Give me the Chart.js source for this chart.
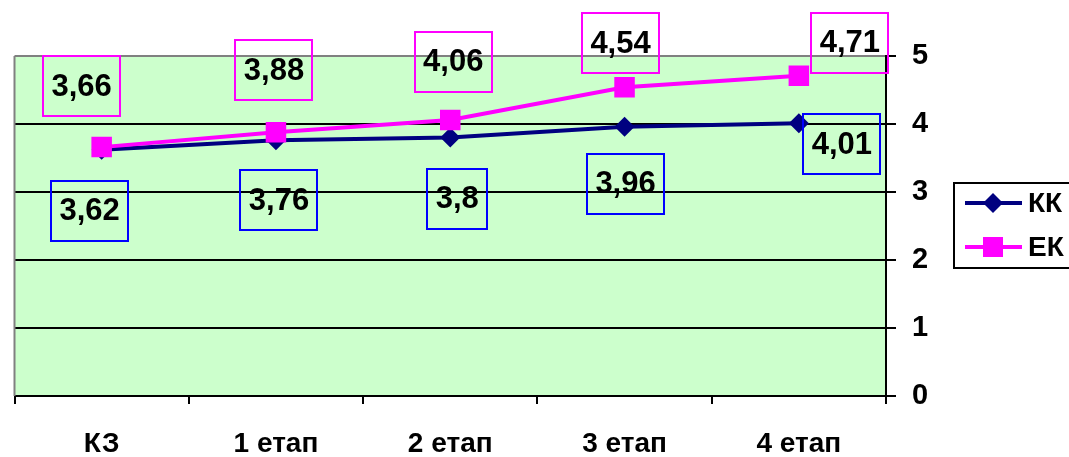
<!DOCTYPE html>
<html>
<head>
<meta charset="utf-8">
<style>
  html, body { margin: 0; padding: 0; background: #ffffff; }
  #wrap { width: 1069px; height: 457px; }
</style>
<script src="https://cdn.jsdelivr.net/npm/chart.js@4/dist/chart.umd.min.js"></script>
</head>
<body>
<div id="wrap"><canvas id="chart" width="1069" height="457"></canvas></div>
<script>
// Stages along the horizontal axis
const categories = ['КЗ', '1 етап', '2 етап', '3 етап', '4 етап'];
// Mean scores per group
const kkValues = [3.62, 3.76, 3.8, 3.96, 4.01];
const ekValues = [3.66, 3.88, 4.06, 4.54, 4.71];
const seriesNames = ['КК', 'ЕК'];
// Value axis ticks
const yTicks = [0, 1, 2, 3, 4, 5];

const FONT = '"Liberation Sans", Arial, sans-serif';

// Callout placement (box centre relative to its point, in px)
const kkLabelShift = [[-12, 61], [3, 60], [7, 61], [1, 57], [43, 21]];
const ekLabelShift = [[-20, -61], [-2, -62], [3, -58], [-4, -44], [51, -33]];

const fmt = v => String(v).replace('.', ',');

const plotBackground = {
  id: 'plotBackground',
  beforeDraw(chart) {
    const { ctx, chartArea: a } = chart;
    ctx.save();
    ctx.fillStyle = '#CCFFCC';
    ctx.fillRect(a.left, a.top, a.right - a.left, a.bottom - a.top);
    ctx.restore();
  },
  beforeDatasetsDraw(chart) {
    const { ctx, chartArea: a } = chart;
    ctx.save();
    ctx.strokeStyle = '#808080';
    ctx.lineWidth = 2;
    ctx.beginPath();
    ctx.moveTo(a.left, a.top);
    ctx.lineTo(a.left, a.bottom);
    ctx.stroke();
    ctx.restore();
  }
};

const boxedLabels = {
  id: 'boxedLabels',
  afterDatasetsDraw(chart, args, opts) {
    const { ctx } = chart;
    ctx.save();
    ctx.font = 'bold 31px ' + FONT;
    ctx.textAlign = 'center';
    ctx.textBaseline = 'middle';
    chart.data.datasets.forEach((ds, di) => {
      const meta = chart.getDatasetMeta(di);
      const shift = opts.shifts[di];
      meta.data.forEach((pt, i) => {
        const text = fmt(ds.data[i]);
        const w = ctx.measureText(text).width + 17;
        const h = 60;
        const cx = pt.x + shift[i][0];
        const cy = pt.y + shift[i][1];
        ctx.strokeStyle = opts.boxColors[di];
        ctx.lineWidth = 2;
        ctx.strokeRect(Math.round(cx - w / 2), Math.round(cy - h / 2), Math.round(w), h);
        ctx.fillStyle = '#000000';
        ctx.fillText(text, cx, cy + 1);
      });
    });
    ctx.restore();
  }
};

const sideLegend = {
  id: 'sideLegend',
  afterDraw(chart) {
    const { ctx } = chart;
    ctx.save();
    ctx.strokeStyle = '#000000';
    ctx.lineWidth = 2;
    ctx.strokeRect(954, 183, 130, 85);
    const rows = [203, 247];
    chart.data.datasets.forEach((ds, di) => {
      const y = rows[di];
      ctx.strokeStyle = ds.borderColor;
      ctx.lineWidth = 4;
      ctx.beginPath();
      ctx.moveTo(965, y);
      ctx.lineTo(1022, y);
      ctx.stroke();
      ctx.fillStyle = ds.pointBackgroundColor;
      if (ds.pointStyle === 'rectRot') {
        const r = 10;
        ctx.beginPath();
        ctx.moveTo(993, y - r);
        ctx.lineTo(993 + r, y);
        ctx.lineTo(993, y + r);
        ctx.lineTo(993 - r, y);
        ctx.closePath();
        ctx.fill();
      } else {
        ctx.fillRect(983, y - 10, 20, 20);
      }
      ctx.fillStyle = '#000000';
      ctx.font = 'bold 28px ' + FONT;
      ctx.textAlign = 'left';
      ctx.textBaseline = 'middle';
      ctx.fillText(ds.label, 1028, y + 1);
    });
    ctx.restore();
  }
};

new Chart(document.getElementById('chart'), {
  type: 'line',
  data: {
    labels: categories,
    datasets: [
      {
        label: seriesNames[0],
        data: kkValues,
        borderColor: '#000080',
        backgroundColor: '#000080',
        pointBackgroundColor: '#000080',
        pointBorderColor: '#000080',
        borderWidth: 4,
        pointStyle: 'rectRot',
        pointRadius: 10,
        pointBorderWidth: 0,
        tension: 0,
        order: 2
      },
      {
        label: seriesNames[1],
        data: ekValues,
        borderColor: '#FF00FF',
        backgroundColor: '#FF00FF',
        pointBackgroundColor: '#FF00FF',
        pointBorderColor: '#FF00FF',
        borderWidth: 4,
        pointStyle: 'rect',
        pointRadius: 14.5,
        pointBorderWidth: 0,
        tension: 0,
        order: 1
      }
    ]
  },
  options: {
    responsive: false,
    animation: false,
    events: [],
    layout: { padding: { left: 12, top: 56, right: 0, bottom: 0 } },
    plugins: {
      legend: { display: false },
      tooltip: { enabled: false },
      boxedLabels: {
        shifts: [kkLabelShift, ekLabelShift],
        boxColors: ['#0000FF', '#FF00FF']
      }
    },
    scales: {
      x: {
        type: 'category',
        offset: true,
        afterFit(scale) { scale.height = 61; },
        grid: {
          offset: true,
          drawOnChartArea: false,
          drawTicks: true,
          tickLength: 8,
          tickColor: '#000000',
          lineWidth: 2
        },
        border: { display: true, color: '#000000', width: 2 },
        ticks: {
          color: '#000000',
          padding: 23,
          maxRotation: 0,
          font: { family: FONT, size: 28, weight: 'bold' }
        }
      },
      y: {
        position: 'right',
        min: yTicks[0],
        max: yTicks[yTicks.length - 1],
        afterFit(scale) { scale.width = 183; },
        afterBuildTicks(scale) { scale.ticks = yTicks.map(v => ({ value: v })); },
        grid: {
          color: c => (c.tick && c.tick.value === 5 ? '#808080' : '#000000'),
          lineWidth: 2,
          tickLength: 10,
          tickColor: '#000000'
        },
        border: { display: true, color: '#000000', width: 2 },
        ticks: {
          color: '#000000',
          padding: 16,
          font: { family: FONT, size: 29, weight: 'bold' }
        }
      }
    }
  },
  plugins: [plotBackground, boxedLabels, sideLegend]
});
</script>
</body>
</html>
